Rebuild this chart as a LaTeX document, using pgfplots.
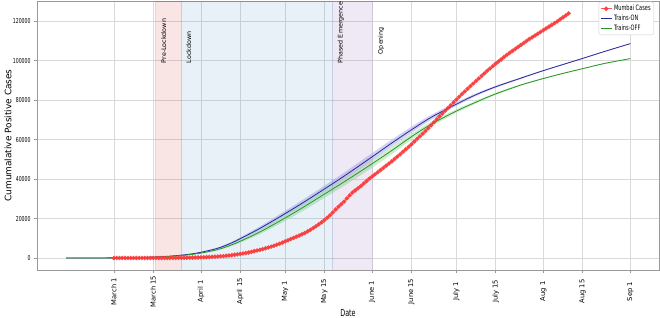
\documentclass[border=0pt]{standalone}
\usepackage{pgfplots}
\pgfplotsset{compat=1.18}
\usepackage{pgfplotstable}
\usepgfplotslibrary{fillbetween}
\usepackage{fontspec}
\setmainfont{DejaVu Sans}
\newfontfamily\hfont[FakeStretch=0.68]{DejaVu Sans}

\definecolor{mred}{RGB}{250,60,60}
\definecolor{mblue}{RGB}{40,40,160}
\definecolor{mgreen}{RGB}{40,150,40}
\definecolor{bandblue}{RGB}{190,190,235}
\definecolor{bandgreen}{RGB}{185,230,185}
\definecolor{spanred}{RGB}{214,39,40}
\definecolor{spanblue}{RGB}{31,119,180}
\definecolor{spanpurple}{RGB}{148,103,189}

% model curves (day 0 = March 1, 2020)
\pgfplotstableread{
day on onlo onhi off offlo offhi
-17 0 0 0 0 0 0
-10 15 15 15 12 12 12
-3 50 50 50 40 40 40
0 80 80 80 65 65 65
7 200 190 210 170 160 180
14 480 450 510 400 370 430
19 850 790 910 720 660 780
24 1450 1350 1550 1250 1150 1350
28 2150 2000 2300 1850 1700 2000
31 2900 2680 3120 2500 2280 2720
35 4200 3870 4530 3600 3250 3950
38 5400 4970 5830 4700 4250 5150
42 7700 7120 8280 6700 6080 7320
45 9800 9080 10520 8500 7720 9280
52 15000 14000 16000 13200 12100 14300
61 22500 21150 23850 20300 18800 21800
68 28600 27050 30150 26200 24450 27950
75 35000 33300 36700 32400 30500 34300
82 41500 39700 43300 38600 36600 40600
92 51300 49450 53150 47800 45800 49800
99 58300 56550 60050 54500 52650 56350
106 65000 63450 66550 61500 59900 63100
113 71300 70050 72550 67800 66550 69050
122 78000 77100 78900 74500 73600 75400
129 82800 82100 83500 79000 78300 79700
136 86800 86250 87350 83200 82650 83750
145 91200 90800 91600 87700 87300 88100
153 95000 94700 95300 91000 90700 91300
160 98100 97850 98350 93600 93350 93850
167 101200 100980 101420 96000 95780 96220
175 104800 104600 105000 98700 98500 98900
184 108700 108500 108900 101100 100900 101300
}\models

% Mumbai cumulative cases
\pgfplotstableread{
day cases
0 0
1 0
2 0
3 0
4 0
5 0
6 0
7 0
8 0
9 0
10 2
11 3
12 4
13 5
14 8
15 10
16 14
17 19
18 22
19 26
20 33
21 40
22 52
23 68
24 86
25 105
26 125
27 150
28 180
29 215
30 260
31 320
32 380
33 440
34 510
35 590
36 680
37 780
38 880
39 1000
40 1140
41 1300
42 1450
43 1650
44 1850
45 2070
46 2300
47 2520
48 2800
49 3100
50 3500
51 3800
52 4150
53 4500
54 4900
55 5300
56 5750
57 6200
58 6700
59 7200
60 7800
61 8400
62 9000
63 9600
64 10200
65 10800
66 11400
67 12000
68 12700
69 13500
70 14300
71 15200
72 16100
73 17100
74 18100
75 19200
76 20400
77 21700
78 23100
79 24600
80 26000
81 27300
82 28600
83 30200
84 31800
85 33200
86 34300
87 35400
88 36500
89 37800
90 39000
91 40200
92 41300
93 42400
94 43500
95 44600
96 45700
97 46800
98 47900
99 49000
100 50200
101 51400
102 52600
103 53900
104 55100
105 56300
106 57600
107 59000
108 60400
109 61700
110 63000
111 64400
112 65800
113 67300
114 68800
115 70300
116 71800
117 73200
118 74600
119 76000
120 77400
121 78900
122 80300
123 81700
124 83100
125 84400
126 85800
127 87100
128 88400
129 89700
130 91000
131 92300
132 93600
133 94900
134 96100
135 97300
136 98500
137 99600
138 100700
139 101900
140 103000
141 104000
142 105000
143 106000
144 107000
145 108000
146 109000
147 110000
148 111000
149 111900
150 112800
151 113700
152 114600
153 115500
154 116400
155 117300
156 118200
157 119100
158 120000
159 121000
160 122000
161 123000
162 124000
}\mumbai

\begin{document}
\begin{tikzpicture}
\begin{axis}[
  name=ax,
  scale only axis, width=622bp, height=269bp,
  xmin=-27.4, xmax=194.2, ymin=-6080, ymax=130300,
  xtick={0,14,31,45,61,75,92,106,122,136,153,167,184},
  xticklabels={March 1,March 15,April 1,April 15,May 1,May 15,June 1,June 15,July 1,July 15,Aug 1,Aug 15,Sep 1},
  ytick={0,20000,40000,60000,80000,100000,120000},
  scaled y ticks=false,
  /pgf/number format/fixed,
  /pgf/number format/1000 sep={},
  /pgf/number format/assume math mode=true,
  yticklabel style={font=\hfont\fontsize{6.8}{8}\selectfont},
  xticklabel style={rotate=90,anchor=center,font=\fontsize{6.8}{8}\selectfont},
  xticklabel shift=18.5bp,
  tick align=outside, major tick length=3bp,
  tick style={color=gray!80, line width=0.6bp},
  xtick pos=bottom, ytick pos=left,
  grid=major,
  major grid style={color=gray!30, line width=0.6bp},
  axis line style={color=gray!80, line width=0.8bp},
  xlabel={Date},
  every axis x label/.style={at={(axis description cs:0.5,0)},anchor=center,inner sep=0pt,yshift=-43.5bp,font=\hfont\fontsize{9.5}{11}\selectfont},
  ylabel={Cumumalative Positive Cases},
  every axis y label/.style={at={(axis description cs:-0.0466,0.5)},rotate=90,anchor=center,font=\fontsize{9}{11}\selectfont},
  legend style={at={(1,1)},anchor=north east,xshift=-5bp,yshift=-0.8bp,
    font=\hfont\fontsize{7.4}{8}\selectfont, draw=gray!40, rounded corners=1.5bp,
    inner sep=1.2bp, row sep=-1.4bp, fill=white},
  legend cell align=left,
  legend image code/.code={\draw[mark repeat=2,mark phase=2,#1] plot coordinates {(0bp,0bp) (5.5bp,0bp) (11bp,0bp)};},
]
% shaded periods
\addplot[forget plot, fill=spanred, fill opacity=0.12, draw=spanred, draw opacity=0.12, line width=0.8bp] coordinates {(14.7,-6080) (23.9,-6080) (23.9,130300) (14.7,130300)} -- cycle;
\addplot[forget plot, fill=spanblue, fill opacity=0.1, draw=spanblue, draw opacity=0.12, line width=0.8bp] coordinates {(23.9,-6080) (78,-6080) (78,130300) (23.9,130300)} -- cycle;
\addplot[forget plot, fill=spanpurple, fill opacity=0.15, draw=spanpurple, draw opacity=0.15, line width=0.8bp] coordinates {(78,-6080) (92,-6080) (92,130300) (78,130300)} -- cycle;

% bands
\addplot[forget plot, draw=none, name path=onlo, smooth] table[x=day,y=onlo] {\models};
\addplot[forget plot, draw=none, name path=onhi, smooth] table[x=day,y=onhi] {\models};
\addplot[forget plot, fill=bandblue, fill opacity=0.7, draw=none] fill between[of=onlo and onhi];
\addplot[forget plot, draw=none, name path=offlo, smooth] table[x=day,y=offlo] {\models};
\addplot[forget plot, draw=none, name path=offhi, smooth] table[x=day,y=offhi] {\models};
\addplot[forget plot, fill=bandgreen, fill opacity=0.7, draw=none] fill between[of=offlo and offhi];

\addplot[color=mred, opacity=0.85, line width=1bp, mark=*, mark size=1.7bp] table[x=day,y=cases] {\mumbai};
\addlegendentry{Mumbai Cases}
\addplot[color=mblue, line width=0.8bp, smooth] table[x=day,y=on] {\models};
\addlegendentry{Trains-ON}
\addplot[color=mgreen, line width=0.8bp, smooth] table[x=day,y=off] {\models};
\addlegendentry{Trains-OFF}

\node[rotate=90, anchor=west, inner sep=0pt, font=\fontsize{6.4}{7}\selectfont] at (axis cs:17.8,98700) {Pre-Lockdown};
\node[rotate=90, anchor=west, inner sep=0pt, font=\fontsize{6.4}{7}\selectfont] at (axis cs:26.7,98700) {Lockdown};
\node[rotate=90, anchor=west, inner sep=0pt, font=\fontsize{6.4}{7}\selectfont] at (axis cs:80.9,98700) {Phased Emergence};
\node[rotate=90, anchor=west, inner sep=0pt, font=\fontsize{6.4}{7}\selectfont] at (axis cs:95.2,103300) {Opening};
\end{axis}
\pgfresetboundingbox
\path ([xshift=-37bp,yshift=-48bp]ax.south west) rectangle ([xshift=1bp,yshift=1bp]ax.north east);
\end{tikzpicture}
\end{document}
